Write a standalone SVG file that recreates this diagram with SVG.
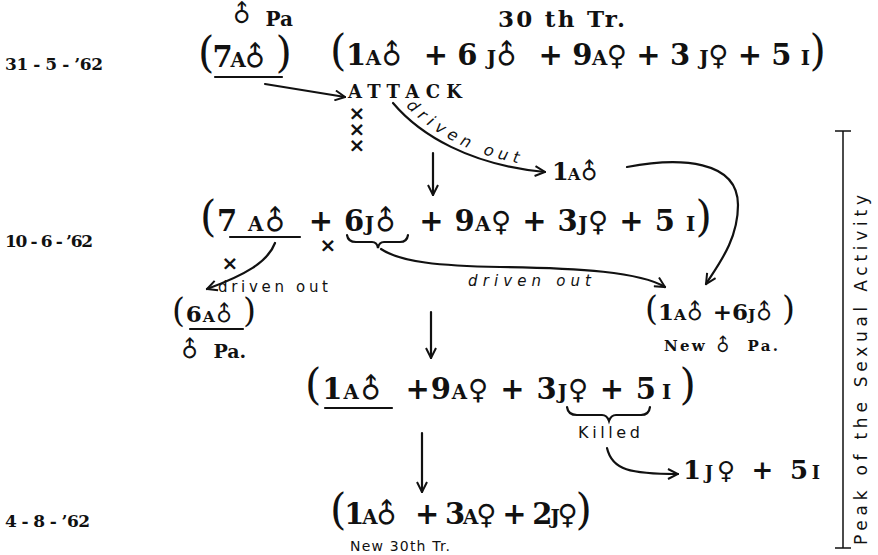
<svg xmlns="http://www.w3.org/2000/svg" width="878" height="555" viewBox="0 0 878 555">
<style>
text{fill:#111}
.m{font-family:"DejaVu Serif","Liberation Serif",serif;font-weight:bold}
.sc{font-size:0.68em}
.p{font-size:1.45em;font-weight:normal}
.sy{font-family:"DejaVu Sans",sans-serif;font-weight:bold;font-size:0.95em}
.sb{font-family:"DejaVu Sans",sans-serif;font-weight:bold;font-size:1.2em}
.h{font-family:"DejaVu Sans","Liberation Sans",sans-serif;font-weight:normal}
.hi{font-family:"DejaVu Sans","Liberation Sans",sans-serif;font-style:italic}
.x{font-family:"DejaVu Sans",sans-serif;font-weight:bold;font-size:20px}
.ln{fill:none;stroke:#111;stroke-width:2.2;stroke-linecap:round}
.thin{fill:none;stroke:#111;stroke-width:1.5}
</style>
<defs>
<marker id="ah" viewBox="0 0 12 12" refX="11" refY="6" markerWidth="12" markerHeight="12" markerUnits="userSpaceOnUse" orient="auto">
<path d="M1,1 L11,6 L1,11" fill="none" stroke="#111" stroke-width="2"/>
</marker>
<path id="tp1" d="M399,99 C 426,130 472,160 545,167"/>
</defs>

<g id="dates">
<text id="d1" class="m" x="5" y="70" font-size="17" textLength="98" lengthAdjust="spacing">31 - 5 - ’62</text>
<text id="d2" class="m" x="5" y="247" font-size="17" textLength="88" lengthAdjust="spacing">10 - 6 - ’62</text>
<text id="d4" class="m" x="5" y="527" font-size="17" textLength="85" lengthAdjust="spacing">4 - 8 - ’62</text>
</g>

<g id="pa1">
<text class="m" x="232" y="26" font-size="20"><tspan class="sb" rotate="-45" dx="8" dy="1">♂</tspan><tspan dy="-1" dx="4">Pa</tspan></text>
<text class="m" x="198" y="67" font-size="29" textLength="94" lengthAdjust="spacing"><tspan class="p">(</tspan>7<tspan class="sc">A</tspan><tspan class="sy" rotate="-45" dx="9" dy="5">♂</tspan><tspan class="p" dy="-5">)</tspan></text>
</g>

<g id="tr30">
<text class="m" x="498" y="27" font-size="23" textLength="127" lengthAdjust="spacing">30 th Tr.</text>
<text class="m" x="330" y="65" font-size="29" textLength="496" lengthAdjust="spacing"><tspan class="p">(</tspan>1<tspan class="sc">A</tspan><tspan class="sy" rotate="-45" dx="9" dy="5">♂</tspan><tspan dy="-5"> + 6 </tspan><tspan class="sc">J</tspan><tspan class="sy" rotate="-45" dx="9" dy="5">♂</tspan><tspan dy="-5">  + 9</tspan><tspan class="sc">A</tspan><tspan class="sy">♀</tspan> + 3 <tspan class="sc">J</tspan><tspan class="sy">♀</tspan> + 5 <tspan class="sc">I</tspan><tspan class="p">)</tspan></text>
</g>

<g id="attack">
<text class="m" x="348" y="98" font-size="18" textLength="114" lengthAdjust="spacing">ATTACK</text>
<text class="x" x="357" y="120" text-anchor="middle">×</text>
<text class="x" x="357" y="136" text-anchor="middle">×</text>
<text class="x" x="357" y="152" text-anchor="middle">×</text>
</g>

<g id="one-male">
<text class="m" x="552" y="180" font-size="24" textLength="56" lengthAdjust="spacing">1<tspan class="sc">A</tspan><tspan class="sy" rotate="-45" dx="8" dy="4">♂</tspan></text>
</g>

<g id="row2">
<text class="m" x="200" y="231" font-size="29" textLength="512" lengthAdjust="spacing"><tspan class="p">(</tspan>7 <tspan class="sc">A</tspan><tspan class="sy" rotate="-45" dx="9" dy="5">♂</tspan><tspan dy="-5"> + 6</tspan><tspan class="sc">J</tspan><tspan class="sy" rotate="-45" dx="9" dy="5">♂</tspan><tspan dy="-5"> + 9</tspan><tspan class="sc">A</tspan><tspan class="sy">♀</tspan> + 3<tspan class="sc">J</tspan><tspan class="sy">♀</tspan> + 5 <tspan class="sc">I</tspan><tspan class="p">)</tspan></text>
<text class="x" x="328" y="252" text-anchor="middle">×</text>
<text class="x" x="230" y="270" text-anchor="middle">×</text>
</g>

<g id="pa-old">
<text class="m" x="172" y="322" font-size="23" textLength="84" lengthAdjust="spacing"><tspan class="p">(</tspan>6<tspan class="sc">A</tspan><tspan class="sy" rotate="-45" dx="7" dy="4">♂</tspan><tspan class="p" dy="-4">)</tspan></text>
<text class="m" x="180" y="358" font-size="19"><tspan class="sb" rotate="-45" dx="8" dy="4">♂</tspan><tspan dy="-4" dx="5">Pa.</tspan></text>
</g>

<g id="pa-new">
<text class="m" x="645" y="320" font-size="23" textLength="150" lengthAdjust="spacing"><tspan class="p">(</tspan>1<tspan class="sc">A</tspan><tspan class="sy" rotate="-45" dx="7" dy="4">♂</tspan><tspan dy="-4">+6</tspan><tspan class="sc">J</tspan><tspan class="sy" rotate="-45" dx="7" dy="4">♂</tspan><tspan class="p" dy="-4">)</tspan></text>
<text class="m" x="664" y="351" font-size="15" textLength="114" lengthAdjust="spacing">New <tspan class="sb" rotate="-45" dx="7" dy="4">♂</tspan><tspan dy="-4"> Pa.</tspan></text>
</g>

<g id="row3">
<text class="m" x="305" y="399" font-size="29" textLength="262" lengthAdjust="spacing"><tspan class="p">(</tspan>1<tspan class="sc">A</tspan><tspan class="sy" rotate="-45" dx="9" dy="5">♂</tspan><tspan dy="-5"> +9</tspan><tspan class="sc">A</tspan><tspan class="sy">♀</tspan> + 3<tspan class="sc">J</tspan></text>
<text class="m" x="568" y="399" font-size="29" textLength="88" lengthAdjust="spacing"><tspan class="sy">♀</tspan> + 5</text>
<text class="m" x="662" y="399" font-size="29" textLength="34" lengthAdjust="spacing"><tspan class="sc">I</tspan><tspan class="p">)</tspan></text>
<text class="h" x="578" y="438" font-size="16" textLength="62" lengthAdjust="spacing">Killed</text>
</g>

<g id="killed-result">
<text class="m" x="683" y="479" font-size="26" textLength="137" lengthAdjust="spacing">1<tspan class="sc">J</tspan><tspan class="sy">♀</tspan> + 5<tspan class="sc">I</tspan></text>
</g>

<g id="row4">
<text class="m" x="330" y="524" font-size="29" textLength="262" lengthAdjust="spacing"><tspan class="p">(</tspan>1<tspan class="sc">A</tspan><tspan class="sy" rotate="-45" dx="9" dy="5">♂</tspan><tspan dy="-5"> + 3</tspan><tspan class="sc">A</tspan><tspan class="sy">♀</tspan> + 2<tspan class="sc">J</tspan><tspan class="sy">♀</tspan><tspan class="p">)</tspan></text>
<text class="h" x="350" y="551" font-size="14" textLength="100" lengthAdjust="spacing">New  30th Tr.</text>
</g>

<g id="peak">
<path class="thin" d="M843,131 V548 M835,131 H851 M835,548 H851"/>
<text class="h" transform="translate(867,545) rotate(-90)" font-size="17" textLength="350" lengthAdjust="spacing">Peak of the Sexual Activity</text>
</g>

<g id="marks">
<path class="ln" d="M215,77 H282"/>
<path class="ln" d="M230,237 H300"/>
<path class="ln" d="M190,329 H243"/>
<path class="ln" d="M325,408 H392"/>
<path class="ln" stroke-width="1.8" d="M347,235 Q348,242 356,242 H372 Q377,242 378,248 Q379,242 384,242 H400 Q407,242 408,235"/>
<path class="ln" stroke-width="1.8" d="M567,407 Q568,415 577,415 H602 Q607,415 609,421 Q611,415 616,415 H641 Q649,415 650,407"/>
</g>

<g id="connectors">
<path class="ln" d="M265,84 L345,97" marker-end="url(#ah)"/>
<path class="ln" d="M393,103 C 420,135 470,165 545,172" marker-end="url(#ah)"/>
<text class="hi" font-size="16"><textPath href="#tp1" startOffset="10" textLength="128" lengthAdjust="spacing">driven out</textPath></text>
<path class="ln" d="M433,153 V195" marker-end="url(#ah)"/>
<path class="ln" d="M627,167 C 680,157 738,160 738,205 C 738,240 718,265 706,284" marker-end="url(#ah)"/>
<path class="ln" d="M275,243 C 268,262 245,275 207,289" marker-end="url(#ah)"/>
<text class="h" x="218" y="292" font-size="15" textLength="110" lengthAdjust="spacing">driven out</text>
<path class="ln" d="M381,249 C 400,262 440,266 500,267 C 580,268 640,272 665,287" marker-end="url(#ah)"/>
<text class="hi" x="468" y="286" font-size="15" textLength="123" lengthAdjust="spacing">driven out</text>
<path class="ln" d="M431,312 V358" marker-end="url(#ah)"/>
<path class="ln" d="M607,448 C 612,470 630,474 678,474" marker-end="url(#ah)"/>
<path class="ln" d="M422,433 V492" marker-end="url(#ah)"/>
</g>
</svg>
